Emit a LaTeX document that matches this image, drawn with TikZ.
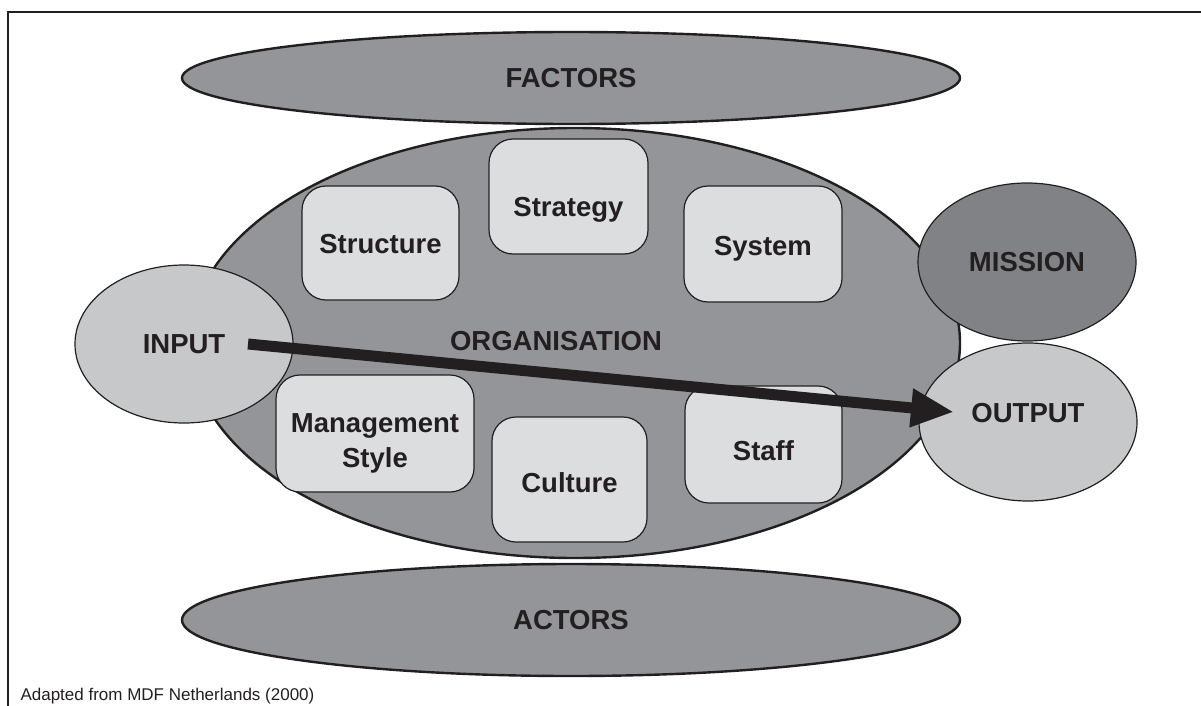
\documentclass[tikz,border=0pt]{standalone}
\usepackage{fontspec}
\setmainfont{Liberation Sans}
\usepackage{tikz}
\usetikzlibrary{shapes.geometric,arrows.meta}
\definecolor{ink}{HTML}{231F20}
\definecolor{orggray}{HTML}{939598}
\definecolor{missiongray}{HTML}{808285}
\definecolor{iogray}{HTML}{C7C8CA}
\definecolor{boxgray}{HTML}{DCDDDF}
\newcommand{\headfont}{\fontsize{27.5}{35}\selectfont\bfseries}
\tikzset{
  oval/.style={ellipse, draw=ink, inner sep=0pt, text=ink, font=\headfont},
  bigoval/.style={oval, fill=orggray, line width=2.4pt},
  sideoval/.style={oval, line width=1.2pt, minimum width=218pt, minimum height=158pt},
  roundbox/.style={rectangle, rounded corners=24pt, draw=ink, line width=1.2pt, fill=boxgray,
    inner sep=0pt, align=center, text=ink, font=\headfont},
  textdown/.style={text height=#1},
  frameline/.style={draw=ink, line width=2.5pt},
  flow/.style={draw=ink, line width=11pt, -{Triangle[length=43pt, width=36pt]}}
}
\newcommand{\ovalnode}[4] {\node at (#1) (#2) [#3] {#4};}
\newcommand{\boxnode}[6] {\node at (#1) (#2) [roundbox, minimum width=#3pt, minimum height=#4pt, #5] {#6};}

\begin{document}
\begin{tikzpicture}[x=1pt, y=-1pt]
\useasboundingbox (0,0) rectangle (1201,706);
\draw [frameline] (8,706) |- (1201,12);

\ovalnode {571,78}{factors}{bigoval, minimum width=778pt, minimum height=92pt}{FACTORS};
\ovalnode {571,620}{actors}{bigoval, minimum width=778pt, minimum height=112pt}{ACTORS};
\ovalnode {575,343}{organisation}{bigoval, minimum width=770pt, minimum height=430pt,
  label={[text=ink, font=\headfont, xshift=-19pt, yshift=2pt]center:ORGANISATION}}{};

\ovalnode {1027,262}{mission}{sideoval, fill=missiongray}{MISSION};
\ovalnode {184,344}{input}{sideoval, fill=iogray}{INPUT};
\ovalnode {1028,422}{output}{sideoval, fill=iogray, text depth=18pt}{OUTPUT};

\boxnode {380.5,243}{structure}{157}{114}{textdown=22pt}{Structure};
\boxnode {568.5,196.5}{strategy}{159}{115}{textdown=46pt}{Strategy};
\boxnode {763,244}{system}{158}{116}{textdown=28pt}{System};
\boxnode {375,433.5}{management}{198}{117}{textdown=73pt}{Management\\Style};
\boxnode {569.5,479.5}{culture}{155}{125}{textdown=26pt}{Culture};
\boxnode {763.5,444.5}{staff}{157}{117}{textdown=32pt}{Staff};

\draw [flow] ([xshift=64pt]input.center) -- ([shift={(-74,-10)}]output.center);

\node at (17,700) (source) [anchor=base west, text=ink, font=\fontsize{17}{20}\selectfont] {Adapted from MDF Netherlands (2000)};
\end{tikzpicture}
\end{document}
